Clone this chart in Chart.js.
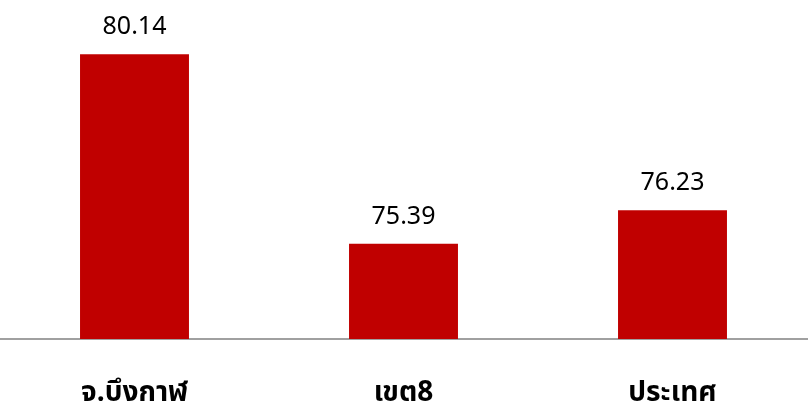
<!DOCTYPE html>
<html>
<head>
<meta charset="utf-8">
<script src="https://cdn.jsdelivr.net/npm/chart.js@4"></script>
<style>
html,body{margin:0;padding:0;background:#fff;}
#wrap{width:808px;height:411px;}
</style>
</head>
<body>
<div id="wrap"><canvas id="c" width="808" height="411"></canvas></div>
<script>
const categories = ["จ.บึงกาฬ", "เขต8", "ประเทศ"];
const values = [80.14, 75.39, 76.23];
const valueLabels = ["80.14", "75.39", "76.23"];

const valueLabelPlugin = {
  id: 'valueLabels',
  afterDatasetsDraw(chart) {
    const ctx = chart.ctx;
    const meta = chart.getDatasetMeta(0);
    ctx.save();
    ctx.fillStyle = '#000';
    ctx.font = '25px "Noto Sans", "DejaVu Sans", sans-serif';
    ctx.textAlign = 'center';
    ctx.textBaseline = 'alphabetic';
    meta.data.forEach((bar, i) => {
      ctx.fillText(valueLabels[i], bar.x, bar.y - 20);
    });
    ctx.restore();
  }
};

new Chart(document.getElementById('c'), {
  type: 'bar',
  data: {
    labels: categories,
    datasets: [{
      data: values,
      backgroundColor: '#c00000',
      borderWidth: 0,
      categoryPercentage: 1,
      barPercentage: 0.405
    }]
  },
  options: {
    responsive: false,
    animation: false,
    layout: { padding: { top: 0, left: 0, right: 1, bottom: 0 } },
    plugins: { legend: { display: false }, tooltip: { enabled: false } },
    scales: {
      x: {
        grid: { display: false, drawTicks: false },
        border: { display: true, color: '#a0a0a0', width: 2 },
        afterFit(scale) { scale.height = 72; },
        ticks: {
          color: '#000',
          padding: 40,
          font: { family: '"Noto Sans Thai", Tahoma, "DejaVu Sans", sans-serif', size: 28, weight: 'bold' }
        }
      },
      y: {
        display: false,
        min: 73,
        max: 81.5
      }
    }
  },
  plugins: [valueLabelPlugin]
});
</script>
</body>
</html>
